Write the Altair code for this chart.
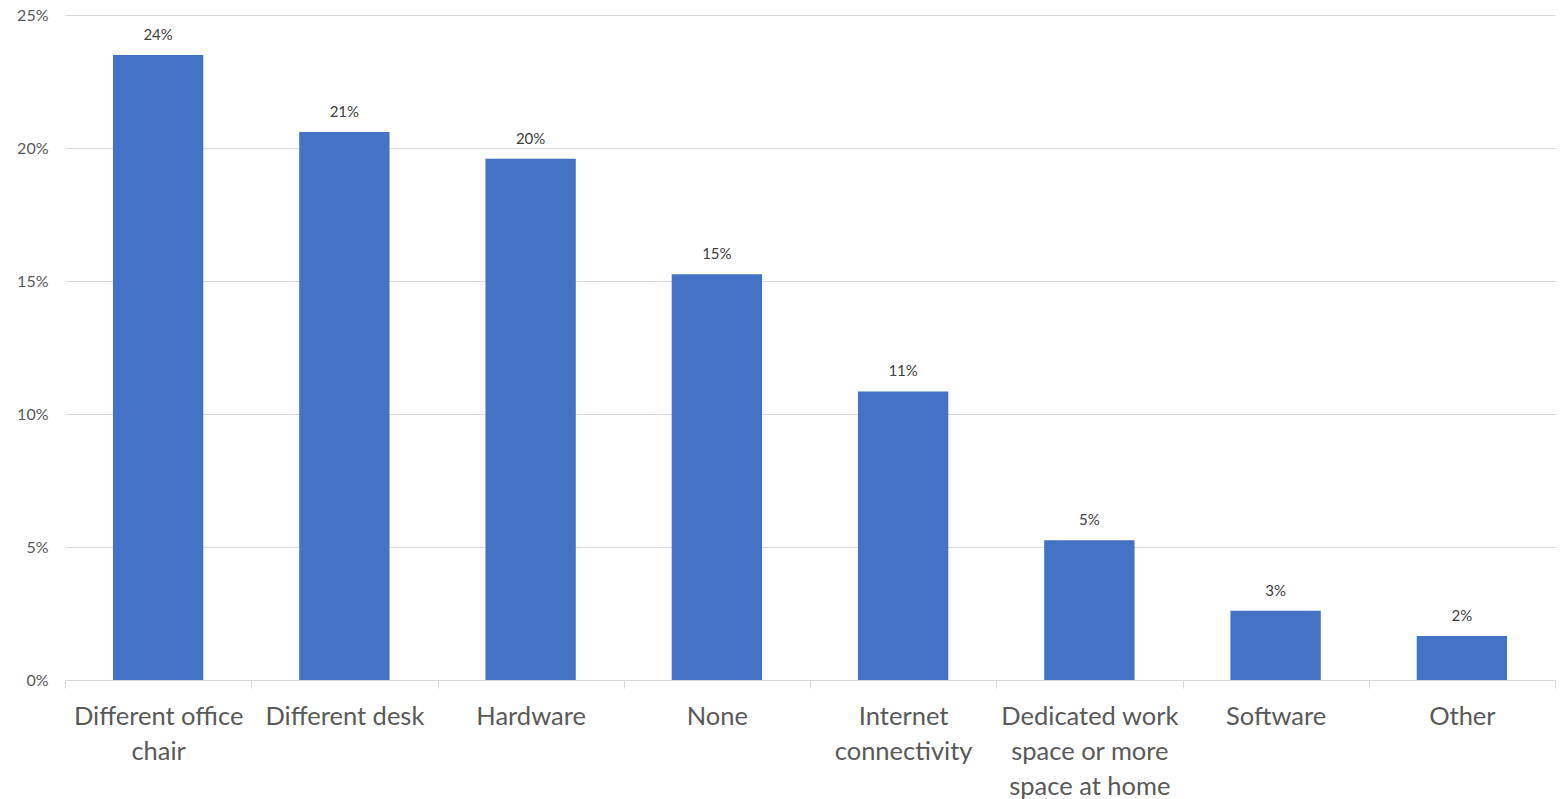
import altair as alt
import pandas as pd

categories = ["Different office\nchair", "Different desk", "Hardware", "None",
              "Internet\nconnectivity", "Dedicated work\nspace or more\nspace at home",
              "Software", "Other"]
values = [23.5, 20.6, 19.6, 15.25, 10.85, 5.25, 2.6, 1.65]

df = pd.DataFrame({"category": categories, "value": values})
df["label"] = df["value"].round(0).astype(int).astype(str) + "%"

FONT = "Lato"

x = alt.X("category:N", sort=categories, title=None,
          scale=alt.Scale(paddingInner=0, paddingOuter=0),
          axis=alt.Axis(labelExpr="split(datum.label, '\\n')", labelAngle=0,
                        labelFontSize=25.5, labelColor="#595959", labelFont=FONT,
                        labelPadding=16, labelLineHeight=35, labelBaseline="top",
                        tickBand="extent", tickSize=8, tickColor="#d9d9d9",
                        domainColor="#d9d9d9", grid=False))

bars = alt.Chart(df).mark_bar(color="#4472C4", width=alt.RelativeBandSize(0.485)).encode(
    x=x,
    y=alt.Y("value:Q", title=None,
            scale=alt.Scale(domain=[0, 25], nice=False),
            axis=alt.Axis(values=[0, 5, 10, 15, 20, 25], labelExpr="datum.value + '%'",
                          labelFontSize=16, labelColor="#595959", labelFont=FONT,
                          domain=False, ticks=False, labelPadding=17,
                          gridColor="#d9d9d9", gridWidth=1)),
)

text = alt.Chart(df).mark_text(baseline="bottom", dy=-12, fontSize=15,
                               color="#404040", font=FONT).encode(
    x=alt.X("category:N", sort=categories),
    y="value:Q",
    text="label:N",
)

chart = (bars + text).properties(
    width=1490, height=665,
    autosize=alt.AutoSizeParams(type="none"),
    padding={"left": 65, "top": 15, "right": 5, "bottom": 119},
).configure(background="white").configure_view(stroke=None)

chart.save("out.html", embed_options={"renderer": "svg", "actions": False})
